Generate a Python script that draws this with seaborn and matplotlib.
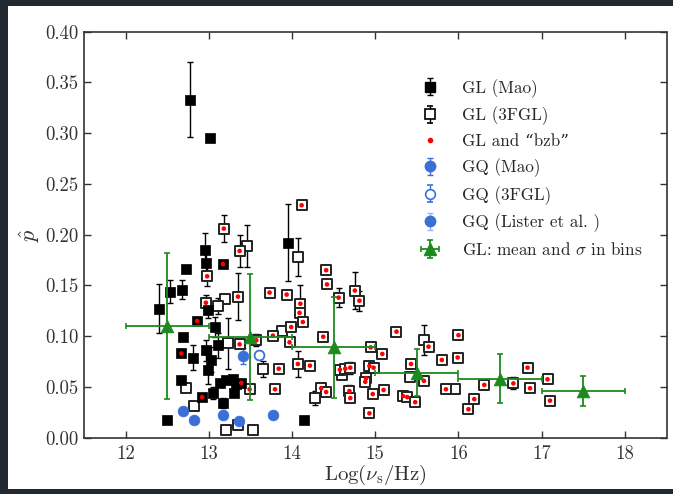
import numpy as np
import pandas as pd
import matplotlib
matplotlib.use("Agg")
import matplotlib.pyplot as plt
from matplotlib.patches import Rectangle
from matplotlib.lines import Line2D
import seaborn as sns

# ---- GL sources from Mao (filled squares) ----
gl_mao_x = [12.77, 13.01, 12.40, 12.53, 12.68, 12.72, 12.95, 12.97, 13.17, 12.86,
            12.99, 13.07, 12.69, 12.67, 12.81, 12.97, 13.03, 12.99, 13.11, 12.66,
            12.92, 13.05, 13.13, 13.21, 13.29, 13.33, 13.39, 13.30, 13.17, 12.50,
            13.95, 14.14]
gl_mao_y = [0.333, 0.295, 0.127, 0.144, 0.146, 0.166, 0.185, 0.172, 0.171, 0.115,
            0.126, 0.109, 0.0995, 0.083, 0.079, 0.086, 0.077, 0.067, 0.091, 0.057,
            0.040, 0.044, 0.054, 0.057, 0.058, 0.053, 0.054, 0.044, 0.034, 0.017,
            0.192, 0.017]
gl_mao_err = [0.037, 0, 0.024, 0.011, 0.009, 0, 0.017, 0.010, 0, 0,
              0.008, 0.010, 0, 0, 0.012, 0.010, 0.012, 0.014, 0.012, 0,
              0, 0.006, 0, 0, 0, 0.005, 0, 0, 0.005, 0,
              0.038, 0]
gl_mao_bzb = [0, 0, 0, 0, 0, 0, 0, 0, 1, 1,
              0, 0, 0, 1, 0, 0, 0, 0, 0, 0,
              1, 0, 0, 0, 0, 0, 1, 0, 0, 0,
              0, 0]

# ---- GL sources from 3FGL (open squares) ----
gl_3fgl_x = [13.46, 14.07, 13.19, 13.11, 13.875, 13.23, 12.72, 12.82, 13.21, 13.35,
             13.53, 13.65, 14.275, 14.60, 15.42, 15.585, 15.96,
             13.18, 12.98, 12.965, 13.37, 13.35, 13.37, 13.57, 14.115, 13.73, 13.935,
             14.10, 14.09, 14.13, 13.77, 13.99, 13.97, 14.07, 14.215, 13.84, 13.49,
             13.795, 14.41, 14.42, 14.56, 14.755, 14.81, 14.375, 14.35, 14.41, 14.575,
             14.64, 14.70, 14.69, 14.70, 14.945, 15.085, 15.255, 15.43, 15.64, 15.80,
             16.00, 15.99, 14.93, 14.98, 14.89, 14.88, 14.97, 15.10, 14.93, 15.335,
             15.385, 15.48, 15.585, 15.85, 16.12, 16.19, 16.31, 16.66, 16.83, 16.86,
             17.07, 17.10]
gl_3fgl_y = [0.189, 0.178, 0.137, 0.130, 0.105, 0.093, 0.049, 0.031, 0.008, 0.013,
             0.0076, 0.068, 0.039, 0.062, 0.060, 0.096, 0.048,
             0.206, 0.159, 0.133, 0.184, 0.139, 0.092, 0.096, 0.229, 0.143, 0.141,
             0.132, 0.123, 0.114, 0.1005, 0.109, 0.094, 0.0726, 0.071, 0.068, 0.0477,
             0.0477, 0.165, 0.151, 0.138, 0.145, 0.135, 0.0995, 0.0487, 0.045, 0.067,
             0.068, 0.069, 0.046, 0.039, 0.089, 0.0825, 0.1045, 0.0726, 0.0897, 0.0766,
             0.101, 0.079, 0.0706, 0.069, 0.0585, 0.055, 0.043, 0.047, 0.024, 0.041,
             0.040, 0.035, 0.056, 0.0477, 0.028, 0.038, 0.052, 0.0535, 0.069, 0.0487,
             0.0575, 0.0365]
gl_3fgl_err = [0.021, 0.019, 0, 0.008, 0, 0.025, 0, 0.004, 0, 0,
               0, 0.008, 0.007, 0, 0, 0.015, 0,
               0.013, 0.010, 0.008, 0.016, 0.023, 0, 0.006, 0, 0, 0,
               0.018, 0.008, 0, 0, 0, 0, 0.013, 0, 0, 0,
               0, 0, 0, 0.009, 0.018, 0.010, 0, 0, 0, 0,
               0, 0.006, 0.006, 0, 0, 0, 0, 0, 0, 0,
               0, 0, 0, 0, 0.006, 0, 0, 0, 0.004, 0,
               0, 0, 0, 0, 0, 0, 0, 0.006, 0, 0,
               0, 0]
gl_3fgl_bzb = [0] * 17 + [1] * 62

# ---- GQ sources ----
gq_mao_x = [12.69, 12.82, 13.365, 13.77]
gq_mao_y = [0.0266, 0.0175, 0.0168, 0.0224]
gq_3fgl_x = [13.60]
gq_3fgl_y = [0.081]
gq_lister_x = [13.41, 13.165]
gq_lister_y = [0.0805, 0.0224]
gq_lister_err = [0.008, 0.004]

# ---- GL binned mean and sigma ----
bin_x = [12.5, 13.5, 14.5, 15.5, 16.5, 17.5]
bin_y = [0.110, 0.099, 0.089, 0.064, 0.058, 0.046]
bin_sigma = [0.072, 0.062, 0.050, 0.023, 0.024, 0.015]
bin_halfwidth = [0.5, 0.5, 0.5, 0.5, 0.5, 0.5]

xticks = [12, 13, 14, 15, 16, 17, 18]
yticks = [0.00, 0.05, 0.10, 0.15, 0.20, 0.25, 0.30, 0.35, 0.40]

BLUE = "#3b6fd6"
GREEN = "#1d8a1d"

sns.set_theme(style="ticks")
plt.rcParams.update({
    "font.family": ["cmr10", "DejaVu Serif"],
    "mathtext.fontset": "cm",
    "axes.formatter.use_mathtext": True,
    "xtick.direction": "in",
    "ytick.direction": "in",
    "xtick.top": True,
    "ytick.right": True,
    "axes.unicode_minus": False,
})

fig = plt.figure(figsize=(6.73, 4.94), dpi=100, facecolor="#232931")
fig.patches.append(Rectangle((8 / 673, 5 / 494), 1, 483 / 494,
                             transform=fig.transFigure, facecolor="white",
                             edgecolor="none", zorder=-10))
ax = fig.add_axes([84 / 673, 56.3 / 494, 582.5 / 673, 406 / 494])
ax.set_zorder(1)
ax.set_facecolor("white")

mao = pd.DataFrame({"x": gl_mao_x, "y": gl_mao_y, "err": gl_mao_err, "bzb": gl_mao_bzb})
fgl = pd.DataFrame({"x": gl_3fgl_x, "y": gl_3fgl_y, "err": gl_3fgl_err, "bzb": gl_3fgl_bzb})
bins = pd.DataFrame({"x": bin_x, "y": bin_y, "s": bin_sigma, "w": bin_halfwidth})

ebkw = dict(fmt="none", ecolor="black", elinewidth=1.0, capsize=2, capthick=1.0, zorder=2)
for df in (mao, fgl):
    sub = df[df["err"] > 0]
    ax.errorbar(sub["x"], sub["y"], yerr=sub["err"], **ebkw)

sns.scatterplot(data=fgl, x="x", y="y", marker="s", s=56, facecolor="white",
                edgecolor="#222222", linewidth=1.4, ax=ax, zorder=3, legend=False)
sns.scatterplot(data=mao, x="x", y="y", marker="s", s=60, color="black",
                edgecolor="black", linewidth=0.5, ax=ax, zorder=4, legend=False)
bzb = pd.concat([mao[mao["bzb"] == 1], fgl[fgl["bzb"] == 1]])
sns.scatterplot(data=bzb, x="x", y="y", marker="o", s=11, color="red",
                edgecolor="none", linewidth=0, ax=ax, zorder=5, legend=False)

ax.errorbar(gq_lister_x, gq_lister_y, yerr=gq_lister_err, fmt="none", ecolor=BLUE,
            elinewidth=1.0, capsize=2, capthick=1.0, zorder=2)
sns.scatterplot(x=gq_mao_x + gq_lister_x, y=gq_mao_y + gq_lister_y, marker="o", s=60,
                color=BLUE, edgecolor=BLUE, linewidth=0.5, ax=ax, zorder=6, legend=False)
sns.scatterplot(x=gq_3fgl_x, y=gq_3fgl_y, marker="o", s=50, facecolor="white",
                edgecolor=BLUE, linewidth=1.3, ax=ax, zorder=6, legend=False)

ax.errorbar(bins["x"], bins["y"], yerr=bins["s"], xerr=bins["w"], fmt="none",
            ecolor=GREEN, elinewidth=1.3, capsize=2, capthick=1.2, zorder=7)
sns.scatterplot(data=bins, x="x", y="y", marker="^", s=85, color=GREEN,
                edgecolor=GREEN, linewidth=0.5, ax=ax, zorder=8, legend=False)

# legend entries drawn as errorbar handles
nan = [np.nan]
h1 = ax.errorbar(nan, nan, yerr=[0.01], fmt="s", ms=7, mfc="black", mec="black",
                 ecolor="black", elinewidth=1, capsize=2, capthick=1)
h2 = ax.errorbar(nan, nan, yerr=[0.01], fmt="s", ms=7, mfc="white", mec="black",
                 mew=1.2, ecolor="black", elinewidth=1, capsize=2, capthick=1)
h3 = Line2D([], [], ls="none", marker="o", ms=3, color="red")
h4 = ax.errorbar(nan, nan, yerr=[0.01], fmt="o", ms=7.5, mfc=BLUE, mec=BLUE,
                 ecolor=BLUE, elinewidth=1, capsize=2, capthick=1)
h5 = ax.errorbar(nan, nan, yerr=[0.01], fmt="o", ms=7, mfc="white", mec=BLUE,
                 mew=1.2, ecolor=BLUE, elinewidth=1, capsize=2, capthick=1)
h6 = ax.errorbar(nan, nan, yerr=[0.01], fmt="o", ms=7.5, mfc=BLUE, mec=BLUE,
                 ecolor="#9db6ea", elinewidth=1, capsize=2, capthick=1)
h7 = ax.errorbar(nan, nan, yerr=[0.01], xerr=[0.1], fmt="^", ms=9, mfc=GREEN, mec=GREEN,
                 ecolor=GREEN, elinewidth=1.3, capsize=2, capthick=1.2)
labels = ["GL (Mao)", "GL (3FGL)", "GL and \u201cbzb\u201d", "GQ (Mao)", "GQ (3FGL)",
          "GQ (Lister et al. )", r"GL: mean and $\sigma$ in bins"]
leg = ax.legend([h1, h2, h3, h4, h5, h6, h7], labels, loc="upper left",
                bbox_to_anchor=(0.572, 0.884), frameon=False, fontsize=12.3,
                handlelength=1.5, handletextpad=1.15, labelspacing=0.52,
                borderpad=0, borderaxespad=0)

ax.set_xlim(11.5, 18.5)
ax.set_ylim(0.0, 0.40)
ax.set_xticks(xticks)
ax.set_yticks(yticks)
ax.set_xticklabels([str(t) for t in xticks])
ax.set_yticklabels([f"{t:.2f}" for t in yticks])
ax.tick_params(axis="both", which="major", length=5, width=1.0, color="#333333",
               labelsize=13.5, labelcolor="#333333", pad=5)
ax.tick_params(axis="y", pad=4)
for sp in ax.spines.values():
    sp.set_color("#333333")
    sp.set_linewidth(1.2)

ax.set_xlabel(r"Log($\nu_{\rm s}$/Hz)", fontsize=15, color="#333333", labelpad=0)
ax.set_ylabel(r"$\hat{p}$", fontsize=16, color="#333333", labelpad=2)

fig.savefig("out.png", dpi=100, facecolor=fig.get_facecolor())
